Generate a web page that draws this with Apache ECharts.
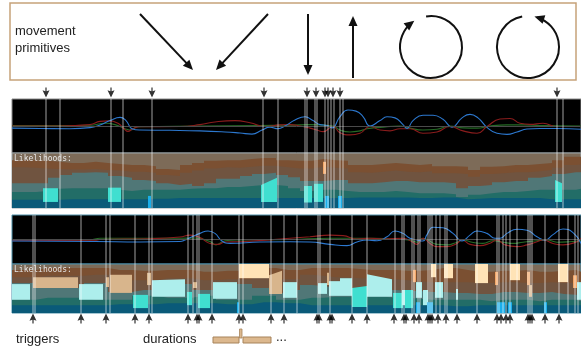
<!DOCTYPE html>
<html><head><meta charset="utf-8">
<script src="https://cdn.jsdelivr.net/npm/echarts@6/dist/echarts.min.js"></script>
<style>html,body{margin:0;padding:0;background:#fff}#c{width:581px;height:348px}</style>
</head><body><div id="c"></div>
<script>
// ---------------- data ----------------
const FRAMES = 569;          // length of recording (frames)
const STEP = 12;             // sampling step of the likelihood bands

// likelihood band tops (cumulative %, from bottom) — upper recording
const brownTop1 = [87,87,86,84,82,82,84,82,80,78,78,76,71,69,78,82,86,87,87,89,91,91,87,86,86,89,87,86,78,78,80,82,80,78,80,76,76,75,69,75,76,78,78,80,82,87,93,93];
const brownGray1 = [74,73,72,71,70,70,71,69,68,66,66,64,60,58,64,68,72,74,73,75,77,77,74,72,72,75,73,72,65,64,66,68,66,65,67,63,63,62,57,62,63,65,65,67,69,73,78,79];
const grayTeal1 = [45,45,45,55,60,64,65,64,58,55,51,49,45,42,44,40,45,53,53,58,62,64,60,56,49,49,51,51,45,45,47,49,49,47,47,47,45,36,40,42,47,49,49,55,58,62,65,65];
const teal1 = [29,29,31,35,36,36,36,36,33,31,33,33,33,33,35,36,36,38,38,40,42,42,40,36,31,33,33,31,29,29,29,31,29,27,27,27,25,20,24,27,29,29,31,33,33,33,33,35];
const blue1 = [15,15,15,15,16,16,16,16,16,16,16,17,17,18,18,18,18,18,18,18,18,18,18,18,18,18,18,18,19,19,19,19,19,18,18,19,19,16,17,18,18,18,18,18,16,16,16,16];

// lower recording
const brownTop2 = [88,88,92,92,92,92,92,92,88,88,86,86,88,88,88,84,84,86,86,86,92,92,88,88,92,92,92,92,90,88,88,88,86,86,88,92,92,88,84,84,86,86,88,84,84,86,88,84];
const brownGray2 = [73,73,76,76,76,76,78,78,76,76,67,67,71,71,71,67,67,69,69,69,76,76,69,69,78,76,73,73,71,71,71,69,67,65,63,63,63,63,61,61,63,63,61,61,63,61,61,61];
const grayTeal2 = [61,61,51,51,51,51,61,61,43,43,47,47,59,59,59,47,47,59,59,59,51,51,41,47,57,55,51,51,51,49,47,47,45,45,43,43,41,41,39,39,43,43,41,41,43,39,37,35];
const teal2 = [27,27,31,31,31,31,27,27,27,27,35,35,31,31,31,35,35,27,27,27,35,35,27,27,31,31,33,33,33,33,33,31,31,29,27,27,27,27,27,24,27,27,27,24,27,27,27,24];
const blue2 = [16,16,16,16,16,16,16,16,18,18,18,18,20,20,20,20,20,18,18,18,22,22,20,20,16,16,16,16,16,16,16,16,16,16,16,16,14,14,16,16,16,16,16,16,16,16,16,16];

// highlighted primitive segments: [startFrame, endFrame, low%, highStart%, highEnd%, kind]
// kind: 0 turquoise, 1 light cyan, 2 tan, 3 peach, 4 orange, 5 bright blue
const segments1 = [
  [31,46,11,36,36,0],[96,109,11,37,37,0],[136,139,0,22,22,5],[249,265,11,42,55,0],
  [292,300,10,40,40,0],[302,311,11,44,44,0],[311,314,62,84,84,4],[313,317,0,22,22,5],
  [326,330,0,22,22,5],[543,550,11,51,45,0]
];
const segments2 = [
  [0,18,27,59,59,1],[21,66,51,73,73,2],[67,91,27,59,59,1],[94,97,53,73,73,2],[98,120,41,78,78,2],
  [121,136,10,37,37,0],[135,139,57,82,82,2],[140,173,33,67,69,1],[175,180,16,43,43,0],[181,185,51,63,63,2],
  [186,198,10,39,39,0],[201,225,29,63,63,1],[225,227,0,22,22,5],[227,257,71,100,100,3],[257,270,39,77,86,2],
  [271,285,31,63,63,1],[306,315,39,61,61,1],[315,317,57,82,82,2],[317,328,35,65,65,1],[328,340,35,71,71,1],
  [340,355,12,51,55,0],[355,380,33,79,69,1],[381,391,10,41,41,0],[390,393,16,47,47,1],[393,401,10,47,47,0],
  [401,404,63,88,88,4],[404,410,31,63,63,1],[404,408,0,22,22,5],[411,416,16,47,47,1],[415,421,0,22,22,5],
  [419,424,73,100,100,3],[423,431,31,63,63,1],[432,441,71,100,100,3],[444,446,27,49,49,1],[463,476,61,100,100,3],
  [483,486,57,84,84,4],[485,493,0,22,22,5],[496,500,0,22,22,5],[498,508,67,100,100,3],[515,518,57,84,84,4],
  [517,520,33,57,57,2],[532,535,0,22,22,5],[546,556,63,100,100,3],[561,565,51,77,77,4],[565,569,27,63,63,1]
];

// segment boundaries (frames)
const bounds1 = [34,48,99,111,140,251,266,293,295,303,305,313,316,319,322,328,331,545,551];
const bounds2 = [21,23,69,94,98,123,137,140,176,181,185,187,200,227,231,259,272,285,306,308,318,340,355,383,390,392,400,402,406,408,416,418,420,424,428,433,435,445,465,485,487,491,494,498,505,516,518,520,533,547,556,563,566];
// triggers (frames)
const triggers1 = [34,99,140,252,295,304,313,316,321,328,545];
const triggers2 = [21,69,94,123,137,176,185,187,200,227,231,259,272,305,307,318,320,340,355,382,392,394,402,407,416,418,420,426,434,445,465,485,489,494,498,516,518,520,533,547];

// motion signals [frame, value]
const sigBlue1 = [[0,-0.08],[28,-0.09],[58,-0.1],[78,-0.06],[88,0.04],[98,0.2],[108,0.32],[114,0.2],[120,-0.1],[128,-0.15],[158,-0.16],[188,-0.18],[213,-0.22],[228,-0.26],[240,-0.3],[250,-0.15],[258,-0.04],[266,-0.1],[273,0],[283,0.22],[293,0.34],[301,0.2],[308,0.05],[315,0.02],[320,-0.07],[328,0.35],[336,0.59],[344,0.55],[351,0.35],[358,0],[368,0.2],[375,0.34],[383,0.3],[391,0.05],[395,-0.09],[401,0.2],[411,0.4],[421,0.4],[431,0.25],[440,-0.04],[450,0.3],[458,0.43],[466,0.3],[475,-0.05],[485,-0.27],[495,-0.31],[505,-0.22],[515,-0.11],[528,-0.09],[545,-0.09],[569,-0.12]];
const sigRed1 = [[0,0],[48,0],[78,0.05],[88,0.17],[96,0.19],[106,0.1],[112,-0.1],[116,-0.2],[121,-0.1],[128,-0.03],[168,-0.02],[188,0.05],[203,0.15],[223,0.2],[238,0.12],[253,-0.02],[268,0.04],[278,0.05],[288,0],[298,-0.08],[305,-0.15],[311,-0.21],[321,-0.02],[328,-0.25],[338,-0.33],[348,-0.27],[358,-0.02],[368,-0.15],[378,-0.18],[388,-0.1],[398,-0.1],[411,-0.27],[425,-0.22],[438,-0.02],[451,-0.18],[465,-0.27],[475,-0.02],[488,0.26],[498,0.28],[508,0.1],[518,0.06],[531,0.1],[545,-0.02],[569,-0.02]];
const sigGreen1 = [[0,0.02],[48,0.02],[78,0.03],[93,0.1],[103,0.05],[113,-0.1],[118,-0.15],[126,-0.03],[188,0],[248,0.02],[278,0.03],[298,0.05],[321,0],[328,-0.15],[338,-0.22],[348,-0.18],[355,-0.1],[368,-0.05],[388,0],[398,-0.08],[411,-0.15],[425,-0.12],[438,0],[451,-0.07],[465,-0.08],[478,0],[495,0.04],[511,0.04],[528,0.02],[545,0.01],[569,0]];
const sigBlue2 = [[0,-0.06],[83,-0.08],[128,-0.1],[168,-0.08],[173,-0.02],[180,0.11],[188,0.25],[196,0.35],[203,0.25],[210,-0.06],[218,-0.16],[248,-0.1],[278,-0.09],[298,-0.1],[318,-0.2],[335,-0.25],[345,-0.1],[355,-0.02],[365,-0.05],[375,0.11],[383,0.35],[391,0.25],[398,0.05],[405,-0.02],[411,-0.06],[415,0.2],[421,0.5],[431,0.48],[441,0.25],[450,-0.06],[458,0.18],[465,0.35],[475,0.25],[483,0.05],[488,0.05],[495,0.25],[505,0.42],[515,0.38],[525,0.11],[533,-0.02],[541,0.2],[551,0.43],[561,0.28],[569,-0.16]];
const sigRed2 = [[0,-0.05],[83,-0.03],[88,0],[138,0.03],[168,0.1],[178,0.18],[188,0.08],[198,-0.16],[206,-0.2],[213,-0.1],[228,-0.09],[278,0.05],[298,0.11],[318,0.18],[331,0.16],[345,0.02],[358,0.05],[371,0.02],[391,0.05],[400,-0.09],[405,-0.2],[411,0.05],[418,-0.16],[425,-0.29],[435,-0.29],[445,-0.16],[450,-0.02],[458,-0.2],[468,-0.25],[478,-0.15],[485,-0.02],[493,-0.22],[505,-0.29],[515,-0.22],[525,-0.09],[531,-0.02],[541,-0.16],[551,-0.22],[565,-0.09],[569,0.05]];
const sigGreen2 = [[0,-0.02],[78,-0.01],[88,0.05],[168,0.05],[183,0.06],[198,-0.08],[204,-0.22],[213,-0.05],[228,-0.02],[278,0],[318,0.05],[361,0.05],[378,0.02],[398,-0.03],[405,-0.11],[411,0.05],[425,-0.2],[435,-0.22],[445,-0.11],[451,-0.02],[460,-0.11],[471,-0.16],[481,-0.05],[491,-0.11],[501,-0.16],[511,-0.11],[525,-0.05],[535,-0.02],[545,-0.11],[558,-0.09],[569,-0.05]];

// ---------------- styles ----------------
const BAND_COLORS = ['#7b5032','#705440','#507777','#226d67','#0a5a79'];
const BG_TOP = '#7d6b58';
const HL_COLORS = ['#40dfd0','#adeeec','#d8b58c','#ffe3b6','#f2a768','#1aaeea'];
const SIG = {blue:'#2c78cf', red:'#8a1c1c', green:'#256a25'};

const chart = echarts.init(document.getElementById('c'), null, {renderer:'canvas'});

function bandData(arr){ const d = arr.map((v,i)=>[i*STEP, v]); d.push([FRAMES, arr[arr.length-1]]); return d; }
function bandSeries(arr, color, gi){
  return {type:'line', xAxisIndex:gi, yAxisIndex:gi, data:bandData(arr), step:'end', symbol:'none',
    lineStyle:{width:0, color}, areaStyle:{color, opacity:1}, silent:true, animation:false, z:2};
}
function segSeries(list, gi){
  return {type:'custom', xAxisIndex:gi, yAxisIndex:gi, data:list, encode:{x:[0,1], y:[2,3,4]},
    renderItem:(p, api)=>{
      const x0=api.value(0), x1=api.value(1), yl=api.value(2), ya=api.value(3), yb=api.value(4);
      const pts=[api.coord([x0,yl]), api.coord([x0,ya]), api.coord([x1,yb]), api.coord([x1,yl])];
      return {type:'polygon', shape:{points:pts}, style:{fill:HL_COLORS[list[p.dataIndex][5]]}};
    }, silent:true, animation:false, z:4};
}
function vlineSeries(xs, gi){
  return {type:'custom', xAxisIndex:gi, yAxisIndex:gi, data:xs.map(v=>[v,0]), encode:{x:0, y:1},
    renderItem:(p, api)=>{
      const x = api.coord([api.value(0), 0])[0]; const cs = p.coordSys;
      return {type:'rect', shape:{x:x-0.75, y:cs.y, width:1.5, height:cs.height}, style:{fill:'rgba(255,255,255,0.42)'}};
    }, silent:true, animation:false, z:6};
}
function sigSeries(data, color, gi, base){
  const s = {type:'line', xAxisIndex:gi, yAxisIndex:gi, data, smooth:0.5, symbol:'none',
    lineStyle:{color, width:1.1}, silent:true, animation:false, z:3};
  if (base) s.markLine = {symbol:'none', silent:true, label:{show:false}, animation:false,
    lineStyle:{color:'#4a4a4a', width:1, type:'solid'}, data:[{yAxis:0}]};
  return s;
}
const DOWN = 'path://M2.3,0 L3.7,0 L3.7,4 L7,3 L3,11 L-1,3 L2.3,4 Z';
const UP = 'path://M3,0 L7,8 L3.7,7 L3.7,11 L2.3,11 L2.3,7 L-1,8 Z';
function trigSeries(xs, gi, sym){
  return {type:'scatter', xAxisIndex:gi, yAxisIndex:gi, data:xs.map(v=>[v,0.5]), symbol:sym,
    symbolSize:[7,10], itemStyle:{color:'#000'}, silent:true, animation:false, clip:false};
}

const L = 12, W = 569;
const grids = [
  {left:L, width:W, top:87, height:11},
  {left:L, width:W, top:99, height:54, show:true, backgroundColor:'#000', borderColor:'#8a8a8a', borderWidth:1},
  {left:L, width:W, top:153, height:55, show:true, backgroundColor:BG_TOP, borderColor:'#9aa6aa', borderWidth:1},
  {left:L, width:W, top:215, height:49, show:true, backgroundColor:'#000', borderColor:'#4c8fa8', borderWidth:1},
  {left:L, width:W, top:264, height:49, show:true, backgroundColor:BG_TOP, borderColor:'#4c8fa8', borderWidth:1},
  {left:L, width:W, top:313, height:11}
];
const yRanges = [[0,1],[-1,1],[0,100],[-1,1],[0,100],[0,1]];
const xAxis = grids.map((g,i)=>({type:'value', gridIndex:i, min:0, max:FRAMES, show:false}));
const yAxis = grids.map((g,i)=>({type:'value', gridIndex:i, min:yRanges[i][0], max:yRanges[i][1], show:false}));

const series = [
  trigSeries(triggers1, 0, DOWN),
  sigSeries(sigGreen1, SIG.green, 1, true), sigSeries(sigRed1, SIG.red, 1), sigSeries(sigBlue1, SIG.blue, 1),
  vlineSeries(bounds1, 1),
  bandSeries(brownTop1, BAND_COLORS[0], 2), bandSeries(brownGray1, BAND_COLORS[1], 2),
  bandSeries(grayTeal1, BAND_COLORS[2], 2), bandSeries(teal1, BAND_COLORS[3], 2), bandSeries(blue1, BAND_COLORS[4], 2),
  segSeries(segments1, 2), vlineSeries(bounds1, 2),
  sigSeries(sigGreen2, SIG.green, 3, true), sigSeries(sigRed2, SIG.red, 3), sigSeries(sigBlue2, SIG.blue, 3),
  vlineSeries(bounds2, 3),
  bandSeries(brownTop2, BAND_COLORS[0], 4), bandSeries(brownGray2, BAND_COLORS[1], 4),
  bandSeries(grayTeal2, BAND_COLORS[2], 4), bandSeries(teal2, BAND_COLORS[3], 4), bandSeries(blue2, BAND_COLORS[4], 4),
  segSeries(segments2, 4), vlineSeries(bounds2, 4),
  trigSeries(triggers2, 5, UP)
];

// ---------------- legend panel graphics ----------------
function head(tx, ty, dx, dy, len, hw){
  const n = Math.hypot(dx,dy); dx/=n; dy/=n;
  const bx = tx - dx*len, by = ty - dy*len;
  return {type:'polygon', shape:{points:[[tx,ty],[bx - dy*hw, by + dx*hw],[bx + dy*hw, by - dx*hw]]}, style:{fill:'#111'}};
}
function arrow(x0,y0,x1,y1){
  const n = Math.hypot(x1-x0,y1-y0), ux=(x1-x0)/n, uy=(y1-y0)/n;
  return [{type:'line', shape:{x1:x0,y1:y0,x2:x1-ux*6,y2:y1-uy*6}, style:{stroke:'#111', lineWidth:2}}, head(x1,y1,x1-x0,y1-y0,10,4.5)];
}
function loop(cx, cy, r, a0, a1, cw){
  const g = [{type:'arc', shape:{cx, cy, r, startAngle:a0, endAngle:a1, clockwise:cw}, style:{stroke:'#111', lineWidth:2, fill:null}}];
  const tx = cx + r*Math.cos(a1), ty = cy + r*Math.sin(a1);
  const dx = cw ? -Math.sin(a1) : Math.sin(a1), dy = cw ? Math.cos(a1) : -Math.cos(a1);
  g.push(head(tx + dx*3, ty + dy*3, dx, dy, 10, 4.5));
  return g;
}
const TXT = {fontFamily:'"Liberation Sans", Arial, sans-serif', fontSize:13, fill:'#222'};
const graphic = [
  {type:'rect', shape:{x:10, y:3, width:566, height:77}, style:{fill:'#fff', stroke:'#c6a27a', lineWidth:1.5}},
  {type:'text', x:15, y:31, style:Object.assign({text:'movement', verticalAlign:'middle'}, TXT)},
  {type:'text', x:15, y:48, style:Object.assign({text:'primitives', verticalAlign:'middle'}, TXT)},
  ...arrow(140,14,193,70), ...arrow(268,14,216,70), ...arrow(308,14,308,75), ...arrow(353,78,353,16),
  ...loop(431, 47, 31, -1.73, 4.05, true),
  ...loop(528, 47, 31, -1.76, -7.55, false),
  {type:'text', x:14, y:155, style:{text:'Likelihoods:', fontFamily:'"DejaVu Sans Mono", monospace', fontSize:8, fill:'#e6e6e6'}, z:10},
  {type:'text', x:14, y:266, style:{text:'Likelihoods:', fontFamily:'"DejaVu Sans Mono", monospace', fontSize:8, fill:'#e6e6e6'}, z:10},
  {type:'text', x:16, y:339, style:Object.assign({text:'triggers', verticalAlign:'middle'}, TXT)},
  {type:'text', x:143, y:339, style:Object.assign({text:'durations', verticalAlign:'middle'}, TXT)},
  {type:'rect', shape:{x:213, y:337, width:26, height:6}, style:{fill:'#dcb88e', stroke:'#a7835a', lineWidth:1}},
  {type:'rect', shape:{x:239.5, y:329, width:2.5, height:9}, style:{fill:'#dcb88e', stroke:'#a7835a', lineWidth:0.8}},
  {type:'rect', shape:{x:243, y:337, width:28, height:6}, style:{fill:'#dcb88e', stroke:'#a7835a', lineWidth:1}},
  {type:'text', x:276, y:337, style:Object.assign({text:'...', verticalAlign:'middle'}, TXT)}
];

chart.setOption({animation:false, grid:grids, xAxis, yAxis, series, graphic});
</script></body></html>
